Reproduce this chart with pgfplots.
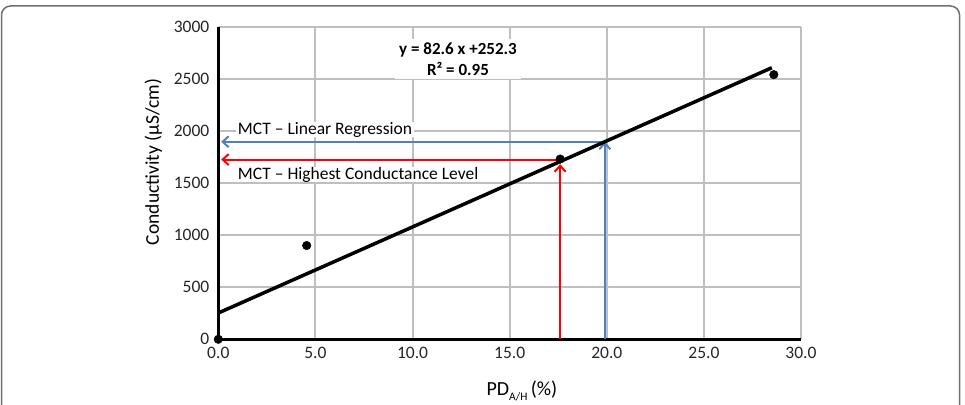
\documentclass[border=0pt]{standalone}
\usepackage{pgfplots}
\pgfplotsset{compat=1.18}
\usepackage{fontspec}
\setmainfont{Carlito}
\usetikzlibrary{arrows.meta}
\definecolor{gridgray}{RGB}{191,191,191}
\definecolor{mctblue}{RGB}{79,129,189}
\definecolor{mctred}{RGB}{255,0,0}
\definecolor{framegray}{RGB}{112,112,112}

\begin{document}
\fontsize{17.5}{20}\selectfont
\begin{tikzpicture}
\path[use as bounding box] (0pt,0pt) rectangle (965pt,-404pt);
% panel frame, open at the bottom
\draw[framegray, line width=1.5pt, rounded corners=9pt]
  (1.5pt,-420pt) -- (1.5pt,-6pt) -- (959.5pt,-6pt) -- (959.5pt,-420pt);
\begin{axis}[
  at={(218.3pt,-339.3pt)}, anchor=south west,
  scale only axis, width=582.7pt, height=312.6pt,
  xmin=0, xmax=30, ymin=0, ymax=3000,
  xtick={0,5,...,30}, ytick={0,500,...,3000},
  clip=false,
  grid=major,
  major grid style={gridgray, line width=2pt},
  axis lines=left,
  axis line style={-, black, line width=3pt},
  major tick length=0pt,
  /pgf/number format/assume math mode=true,
  /pgf/number format/1000 sep={},
  tick label style={font=\fontsize{17.5}{20}\selectfont, text=black!85},
  x tick label style={/pgf/number format/fixed, /pgf/number format/fixed zerofill,
    /pgf/number format/precision=1, yshift=-2pt},
  y tick label style={xshift=-3pt},
  xlabel={PD\raisebox{-5pt}{\fontsize{11.5}{12}\selectfont A/H}\,(\%)},
  xlabel style={at={(rel axis cs:0.521,0)}, anchor=center, yshift=-52pt,
    font=\fontsize{20}{22}\selectfont},
  ylabel={Conductivity (µS/cm)},
  ylabel style={at={(rel axis cs:0,0.567)}, anchor=center, yshift=65pt,
    font=\fontsize{19.5}{22}\selectfont},
]
% annotation boxes
\node[fill=white, inner sep=4pt, align=center, font=\bfseries\fontsize{17}{21}\selectfont]
  at (axis cs:12.34,2690) {y = 82.6 x +252.3\\R² = 0.95};
\node[fill=white, anchor=west, inner xsep=2pt, inner ysep=0pt]
  at (axis cs:0.9,2010) {MCT – Linear Regression};
\node[fill=white, anchor=west, inner xsep=2pt, inner ysep=0pt]
  at (axis cs:0.9,1580) {MCT – Highest Conductance Level};

% read-off arrows
\addplot[mctblue, line width=2pt, -{Straight Barb[length=6pt,width=11pt]}]
  coordinates {(19.9,0) (19.9,1896)};
\addplot[mctblue, line width=2pt, -{Straight Barb[length=6pt,width=11pt]}]
  coordinates {(19.9,1896) (0.15,1896)};
\addplot[mctred, line width=2pt, -{Straight Barb[length=6pt,width=11pt]}]
  coordinates {(17.6,0) (17.6,1680)};
\addplot[mctred, line width=2pt, -{Straight Barb[length=6pt,width=11pt]}]
  coordinates {(17.6,1725) (0.15,1725)};

% linear regression
\addplot[black, line width=3.5pt] coordinates {(0,252.3) (28.5,2606.4)};

% measurements
\addplot[only marks, mark=*, mark size=4.3pt, black]
  coordinates {(0,0) (4.55,900) (17.6,1730) (28.6,2540)};
\end{axis}
\end{tikzpicture}
\end{document}
